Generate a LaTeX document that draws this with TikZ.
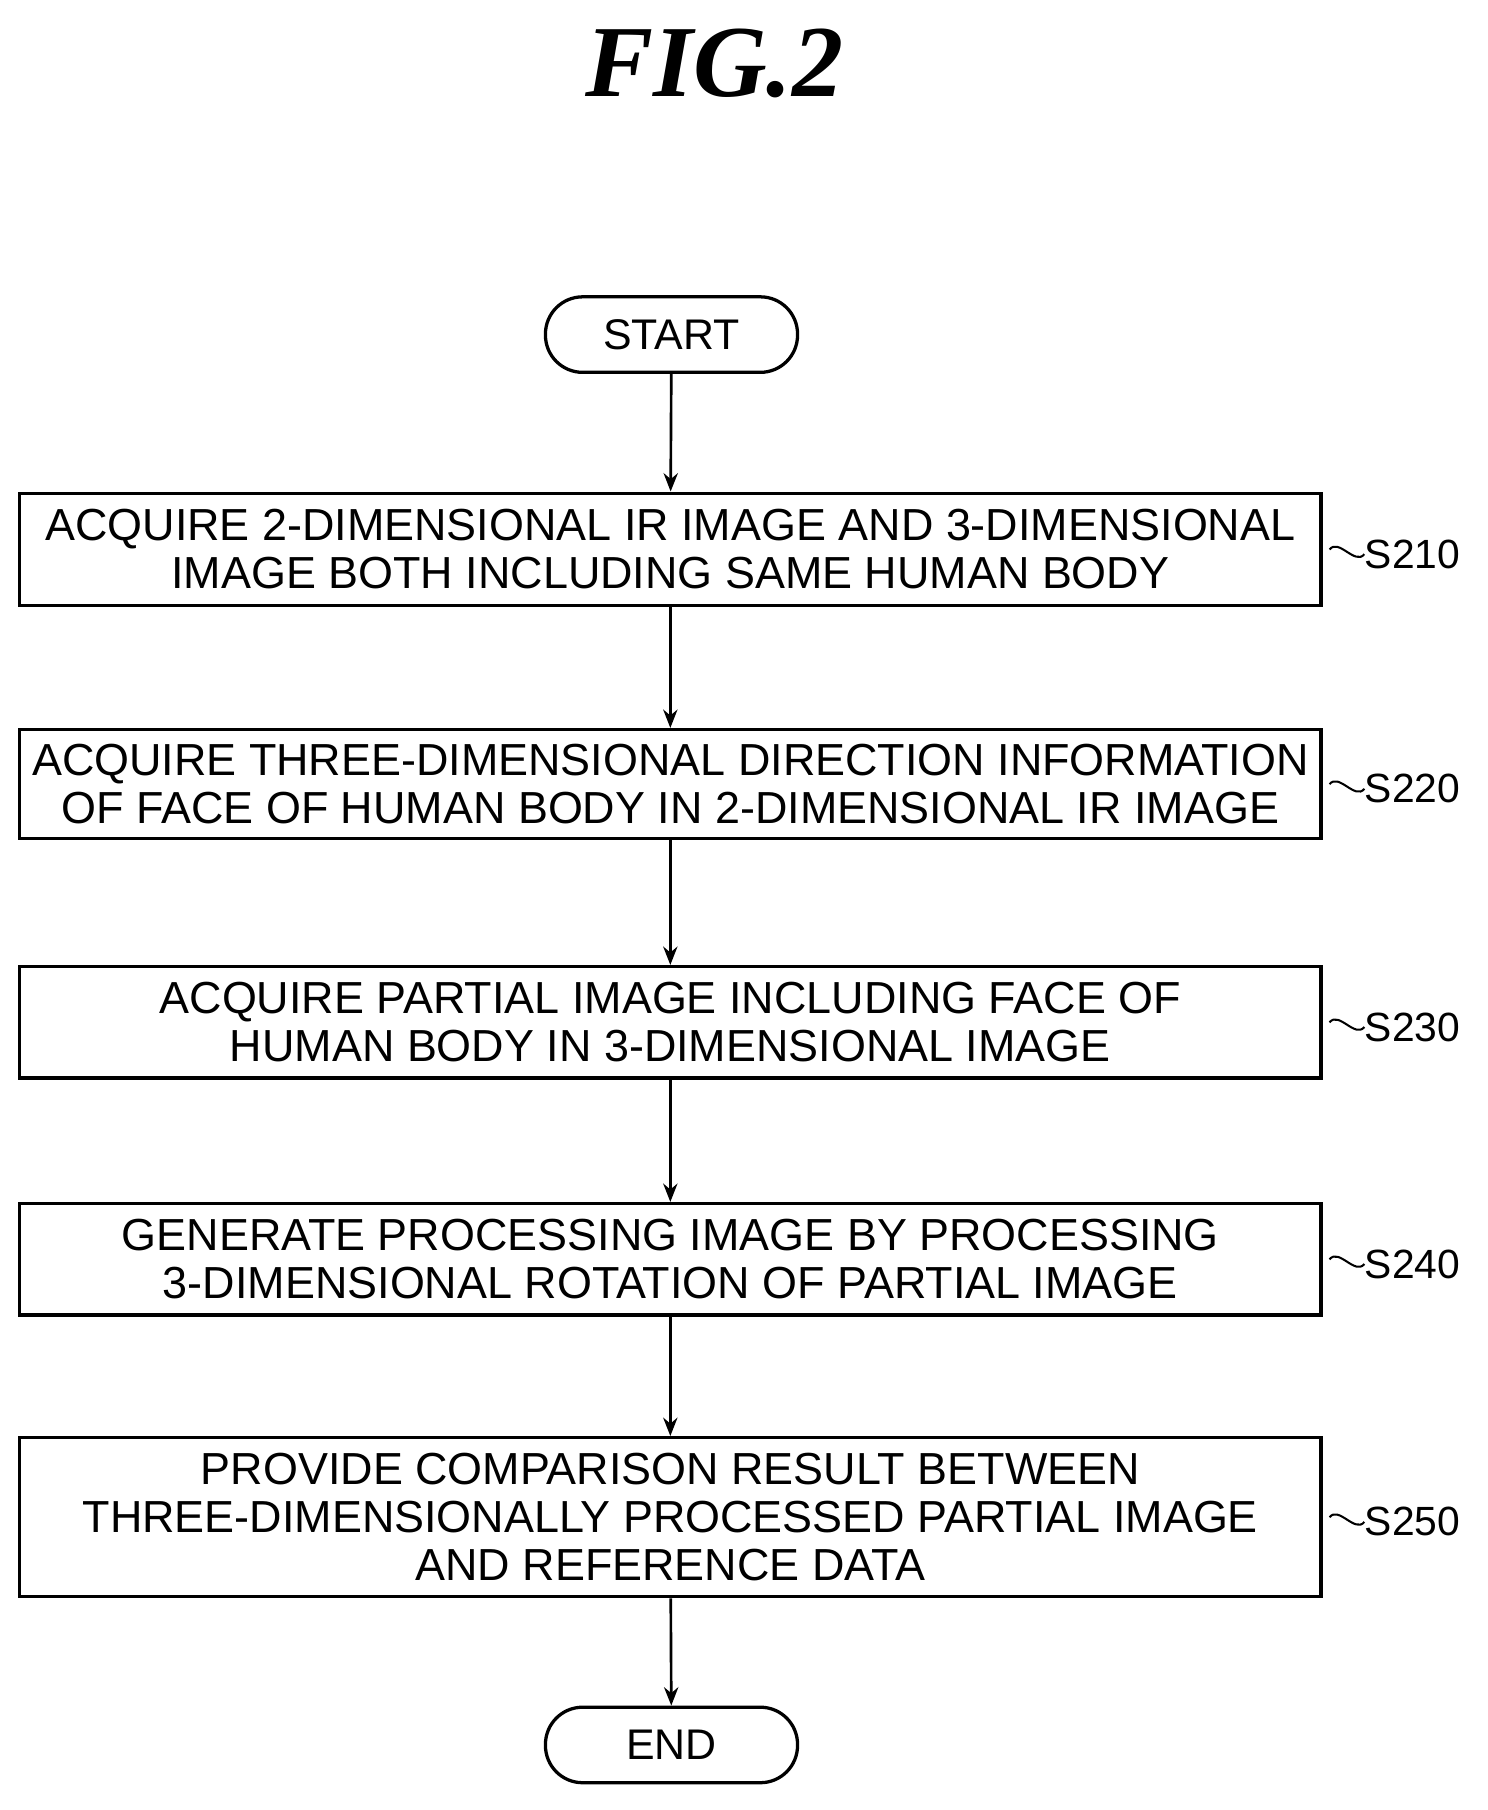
\documentclass[tikz,border=0pt]{standalone}
\usepackage{fontspec}
\setmainfont{Liberation Sans}
\newfontfamily\titlefont{Liberation Serif}
\usetikzlibrary{arrows.meta}
\begin{document}
\begin{tikzpicture}[x=0.02cm,y=0.02cm,
  stepbox/.style={draw,line width=1.6pt,minimum width=1120*0.02cm,align=center,font=\fontsize{22}{23.5}\selectfont,inner sep=0pt},
  term/.style={draw,line width=1.6pt,rounded corners=32*0.02cm,minimum width=217*0.02cm,minimum height=65*0.02cm,font=\fontsize{21}{24}\selectfont},
  arr/.style={line width=1.3pt,-{Stealth[length=9pt,width=7pt]}},
  lab/.style={font=\fontsize{20}{24}\selectfont,anchor=west}]
\useasboundingbox (0,0) rectangle (1280,-1558);
\node[font=\titlefont\bfseries\itshape\fontsize{50}{56}\selectfont] (title) at (615,-55) {FIG.2};
\node[term] (start) at (578,-288) {START};
\node[stepbox,minimum height=97*0.02cm] (s1) at (577,-473) {ACQUIRE 2-DIMENSIONAL IR IMAGE AND 3-DIMENSIONAL\\IMAGE BOTH INCLUDING SAME HUMAN BODY};
\node[stepbox,minimum height=94*0.02cm] (s2) at (577,-675) {ACQUIRE THREE-DIMENSIONAL DIRECTION INFORMATION\\OF FACE OF HUMAN BODY IN 2-DIMENSIONAL IR IMAGE};
\node[stepbox,minimum height=96*0.02cm] (s3) at (577,-880) {ACQUIRE PARTIAL IMAGE INCLUDING FACE OF\\HUMAN BODY IN 3-DIMENSIONAL IMAGE};
\node[stepbox,minimum height=96*0.02cm] (s4) at (577,-1084) {GENERATE PROCESSING IMAGE BY PROCESSING\\3-DIMENSIONAL ROTATION OF PARTIAL IMAGE};
\node[stepbox,minimum height=137*0.02cm] (s5) at (577,-1306) {PROVIDE COMPARISON RESULT BETWEEN\\THREE-DIMENSIONALLY PROCESSED PARTIAL IMAGE\\AND REFERENCE DATA};
\node[term] (end) at (578,-1502) {END};
\draw[arr] (start) -- (s1);
\draw[arr] (s1) -- (s2);
\draw[arr] (s2) -- (s3);
\draw[arr] (s3) -- (s4);
\draw[arr] (s4) -- (s5);
\draw[arr] (s5) -- (end);
\foreach \n/\t in {s1/S210,s2/S220,s3/S230,s4/S240,s5/S250}{
  \node[lab,inner sep=0pt] (l\n) at ([xshift=36*0.02cm,yshift=-4*0.02cm]\n.east) {\t};
  \draw[line width=1pt] ([xshift=6*0.02cm]\n.east) .. controls +(8*0.02cm,10*0.02cm) and +(-8*0.02cm,-10*0.02cm) .. (l\n.west);
}
\end{tikzpicture}
\end{document}
